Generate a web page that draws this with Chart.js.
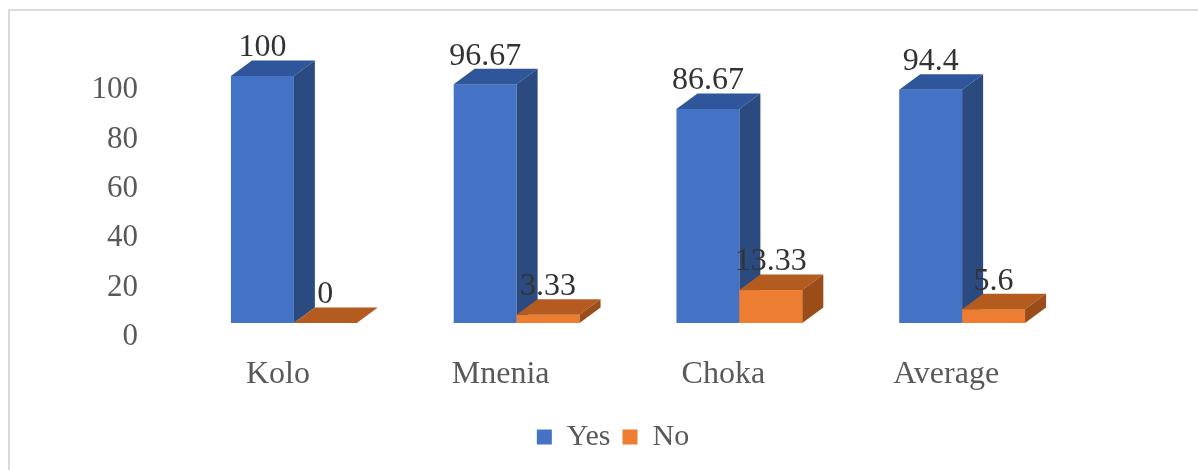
<!DOCTYPE html>
<html>
<head>
<meta charset="utf-8">
<script src="https://cdn.jsdelivr.net/npm/chart.js@4/dist/chart.umd.min.js"></script>
<style>
  html, body { margin: 0; padding: 0; background: #fff; }
  #wrap { position: relative; width: 1198px; height: 470px; }
</style>
</head>
<body>
<div id="wrap"><canvas id="c" width="1198" height="470"></canvas></div>
<script>
const categories = ["Kolo", "Mnenia", "Choka", "Average"];
const yesValues = [100, 96.67, 86.67, 94.4];
const noValues = [0, 3.33, 13.33, 5.6];
const yesLabels = ["100", "96.67", "86.67", "94.4"];
const noLabels = ["0", "3.33", "13.33", "5.6"];
const yTicks = [0, 20, 40, 60, 80, 100];

const FONT = "'Liberation Serif', 'Times New Roman', serif";
const TEXT = "#595959";
const DEPTH_X = 21, DEPTH_Y = 15.5;
const shades = {
  "#4472C4": { top: "#2F569B", side: "#2A4A80" },
  "#ED7D31": { top: "#B45B20", side: "#9A4D19" }
};

const bars3d = {
  id: "bars3d",
  beforeDatasetsDraw(chart) {
    const ctx = chart.ctx;
    const metas = chart.data.datasets.map((d, i) => chart.getDatasetMeta(i));
    const n = chart.data.labels.length;
    ctx.save();
    for (let k = 0; k < n; k++) {
      metas.forEach((meta, di) => {
        const el = meta.data[k];
        const ds = chart.data.datasets[di];
        const col = ds.backgroundColor;
        const l = el.x - el.width / 2, r = el.x + el.width / 2;
        const t = el.y, b = el.base;
        ctx.fillStyle = col;
        ctx.fillRect(l, t, r - l, b - t);
        ctx.fillStyle = shades[col].top;
        ctx.beginPath();
        ctx.moveTo(l, t); ctx.lineTo(l + DEPTH_X, t - DEPTH_Y);
        ctx.lineTo(r + DEPTH_X, t - DEPTH_Y); ctx.lineTo(r, t); ctx.closePath();
        ctx.fill();
        ctx.fillStyle = shades[col].side;
        ctx.beginPath();
        ctx.moveTo(r, t); ctx.lineTo(r + DEPTH_X, t - DEPTH_Y);
        ctx.lineTo(r + DEPTH_X, b - DEPTH_Y); ctx.lineTo(r, b); ctx.closePath();
        ctx.fill();
      });
    }
    ctx.fillStyle = "#333333";
    ctx.font = "32px " + FONT;
    ctx.textAlign = "center";
    ctx.textBaseline = "middle";
    metas.forEach((meta, di) => {
      const labs = di === 0 ? yesLabels : noLabels;
      meta.data.forEach((el, k) => {
        ctx.fillText(labs[k], el.x, el.y - 28);
      });
    });
    ctx.restore();
    return false;
  }
};

const frame = {
  id: "frame",
  beforeDraw(chart) {
    const ctx = chart.ctx;
    ctx.save();
    ctx.fillStyle = "#ffffff";
    ctx.fillRect(0, 0, chart.width, chart.height);
    ctx.strokeStyle = "#d9d9d9";
    ctx.lineWidth = 2;
    ctx.beginPath();
    ctx.moveTo(9, 470); ctx.lineTo(9, 10); ctx.lineTo(1198, 10);
    ctx.stroke();
    ctx.restore();
  }
};

new Chart(document.getElementById("c"), {
  type: "bar",
  data: {
    labels: categories,
    datasets: [
      { label: "Yes", data: yesValues, backgroundColor: "#4472C4" },
      { label: "No", data: noValues, backgroundColor: "#ED7D31" }
    ]
  },
  options: {
    responsive: false,
    animation: false,
    devicePixelRatio: 1,
    layout: { padding: { left: 85, right: 57, top: 76, bottom: 8 } },
    datasets: { bar: { categoryPercentage: 0.565, barPercentage: 1 } },
    scales: {
      x: {
        grid: { display: false, drawTicks: false },
        border: { display: false },
        ticks: { color: TEXT, font: { family: FONT, size: 32 }, padding: 32, labelOffset: -16 },
        afterFit(s) { s.height = 87; }
      },
      y: {
        min: 0, max: 100,
        afterBuildTicks(s) { s.ticks = yTicks.map(v => ({ value: v })); },
        grid: { display: false, drawTicks: false },
        border: { display: false },
        ticks: { color: TEXT, font: { family: FONT, size: 31 }, padding: 44.5, labelOffset: 14 },
        afterFit(s) { s.width = 97.5; }
      },
      yRight: {
        position: "right",
        display: true,
        grid: { display: false, drawTicks: false },
        border: { display: false },
        ticks: { display: false },
        afterFit(s) { s.width = 67.5; }
      }
    },
    plugins: {
      legend: {
        position: "bottom",
        labels: { color: TEXT, font: { family: FONT, size: 30 }, boxWidth: 15, boxHeight: 15, padding: 12 }
      },
      tooltip: { enabled: false }
    }
  },
  plugins: [frame, bars3d]
});
</script>
</body>
</html>
